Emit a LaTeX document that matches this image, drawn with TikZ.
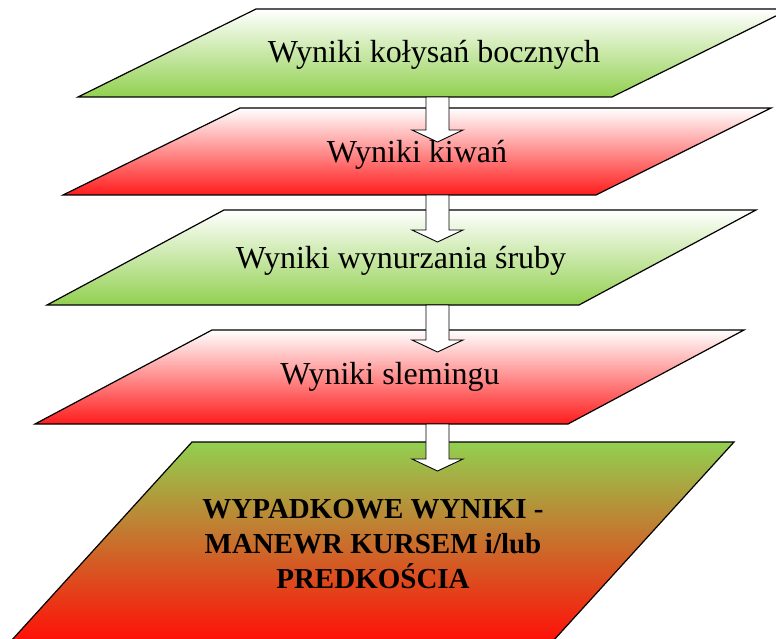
\documentclass[tikz,border=0pt]{standalone}
\usepackage{fontspec}
\setmainfont{Liberation Serif}
\usetikzlibrary{calc}

\definecolor{jasnozielony}{RGB}{146,208,80}
\definecolor{czerwony}{RGB}{255,28,28}
\definecolor{pomaranczowy}{RGB}{214,148,58}
\definecolor{czerwonydol}{RGB}{255,16,8}

\tikzset{
  plyta/.style={draw=black, line width=1.2pt, line join=miter},
  zielona/.style={plyta, top color=white, bottom color=jasnozielony},
  czerwona/.style={plyta, top color=white, bottom color=czerwony},
  wynik/.style={plyta, top color=jasnozielony, middle color=pomaranczowy, bottom color=czerwonydol},
  napis/.style={anchor=base, inner sep=0pt, font=\fontsize{32}{38}\selectfont},
  strzalka/.style={draw=black, fill=white, line width=0.9pt, line join=miter}
}

\begin{document}
\begin{tikzpicture}[x=1pt, y=-1pt]
  % picture frame, 1 unit = 1 pixel, y going down
  \clip (0,0) rectangle (776,639);

  % the stacked plates
  \shade[zielona]  (256,9)   -- (790,9)   -- (612,97)  -- (78,97)  -- cycle;
  \shade[czerwona] (240,108) -- (771,108) -- (596,195) -- (63,195) -- cycle;
  \shade[zielona]  (224,210) -- (756,210) -- (579,305) -- (47,305) -- cycle;
  \shade[czerwona] (212,330) -- (744,330) -- (568,424) -- (35,424) -- cycle;
  \shade[wynik]    (192,442) -- (734,442) -- (553,641) -- (11,641) -- cycle;

  % labels
  \node[napis] (w1) at (434,63)  {Wyniki kołysań bocznych};
  \node[napis] (w2) at (417,163) {Wyniki kiwań};
  \node[napis] (w3) at (401,268) {Wyniki wynurzania śruby};
  \node[napis] (w4) at (390,384) {Wyniki slemingu};
  \node[align=center, inner sep=0pt, font=\fontsize{29}{35}\selectfont\bfseries]
    (w5) at (373,544) {WYPADKOWE WYNIKI -\\MANEWR KURSEM i/lub\\PREDKOŚCIA};

  % arrow ends: bottom edge of a plate, tip inside the next one
  \coordinate (d1) at (437.5,97);
  \coordinate (g2) at (437.5,142);
  \coordinate (d2) at (437.5,195);
  \coordinate (g3) at (437.5,242);
  \coordinate (d3) at (437.5,305);
  \coordinate (g4) at (437.5,352);
  \coordinate (d4) at (437.5,424);
  \coordinate (g5) at (437.5,471);

  % block arrows
  \foreach \od/\do in {d1/g2, d2/g3, d3/g4, d4/g5}
    \draw[strzalka] ($(\od)+(-11.5,0)$) -- ($(\do)+(-11.5,-12)$)
      -- ($(\do)+(-25.5,-12)$) -- (\do) -- ($(\do)+(25.5,-12)$)
      -- ($(\do)+(11.5,-12)$) -- ($(\od)+(11.5,0)$) -- cycle;
\end{tikzpicture}
\end{document}
